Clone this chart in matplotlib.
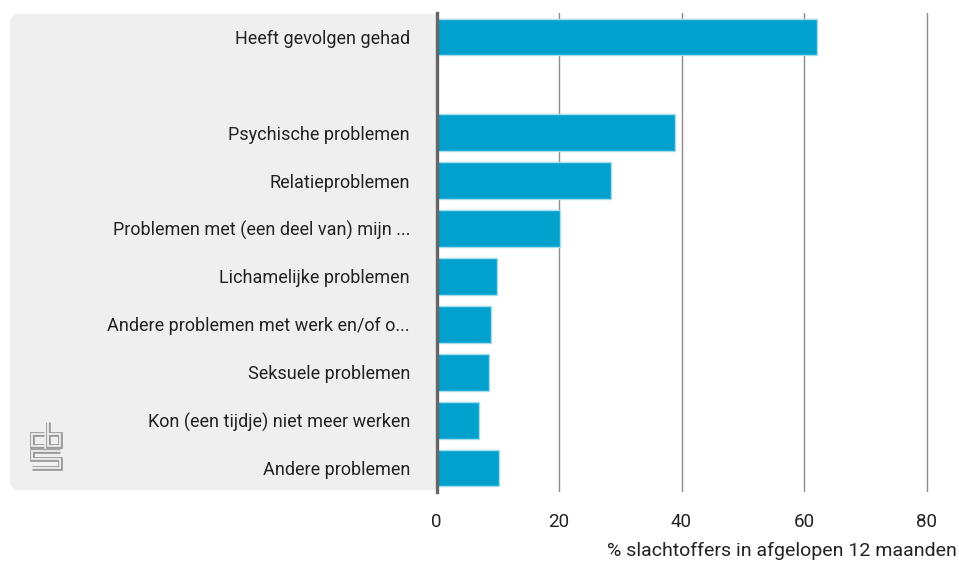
import numpy as np
import matplotlib
matplotlib.use("Agg")
import matplotlib.pyplot as plt
from matplotlib.patches import FancyBboxPatch, Rectangle

categories = [
    "Heeft gevolgen gehad",
    "",
    "Psychische problemen",
    "Relatieproblemen",
    "Problemen met (een deel van) mijn ...",
    "Lichamelijke problemen",
    "Andere problemen met werk en/of o...",
    "Seksuele problemen",
    "Kon (een tijdje) niet meer werken",
    "Andere problemen",
]
values = [62.1, np.nan, 38.9, 28.5, 20.2, 9.9, 8.9, 8.6, 6.9, 10.2]
xticks = [0, 20, 40, 60, 80]
xlabel = "% slachtoffers in afgelopen 12 maanden"

plt.rcParams['font.family'] = ['Roboto', 'DejaVu Sans']

W, H = 959, 562
fig = plt.figure(figsize=(W / 100, H / 100), dpi=100)

# background layer in pixel units: grey panel + logo
bg = fig.add_axes([0, 0, 1, 1], zorder=0)
bg.set_xlim(0, W)
bg.set_ylim(H, 0)
bg.axis('off')
bg.add_patch(FancyBboxPatch((10, 14), 427, 476, boxstyle="round,pad=0,rounding_size=9",
                            facecolor='#efefef', edgecolor='none'))
bg.add_patch(Rectangle((400, 14), 37, 476, facecolor='#efefef', edgecolor='none'))

# cbs logo, drawn as outlined strokes
lx, ly, s = 30, 422, 1.0
strokes = [
    [(14, 12), (2, 12), (2, 24), (14, 24)],
    [(18, 0), (18, 24), (30, 24), (30, 12), (18, 12)],
    [(30, 29), (2, 29), (2, 37), (30, 37), (30, 46), (2, 46)],
]
for st in strokes:
    xs = [lx + p[0] * s for p in st]
    ys = [ly + p[1] * s for p in st]
    bg.plot(xs, ys, color='#9a9a9a', lw=3.4, solid_joinstyle='miter', solid_capstyle='butt')
    bg.plot(xs, ys, color='#efefef', lw=1.3, solid_joinstyle='miter', solid_capstyle='projecting')

# main chart
x0_px, x1_px = 436.5, 950
top_px, bot_px = 13, 492
ax = fig.add_axes([x0_px / W, 1 - bot_px / H, (x1_px - x0_px) / W, (bot_px - top_px) / H], zorder=1)
ax.patch.set_alpha(0)

ypos = np.arange(len(categories))
ax.barh(ypos, values, height=0.77, color='#00a1cd', edgecolor='#a8dcec', linewidth=1, zorder=3)

ax.set_xlim(0, (x1_px - x0_px) / 6.125)
ax.set_ylim(len(categories) - 0.5, -0.5)
ax.set_xticks(xticks)
ax.set_xticklabels([str(t) for t in xticks])
ax.set_yticks(ypos)
ax.set_yticklabels(categories)

ax.grid(axis='x', color='#8c8c8c', linewidth=1, zorder=1)
ax.set_axisbelow(True)
for side in ['top', 'right', 'bottom']:
    ax.spines[side].set_visible(False)
ax.spines['left'].set_color('#666666')
ax.spines['left'].set_linewidth(2.4)
ax.spines['left'].set_zorder(4)

ax.tick_params(axis='y', length=0, pad=19, labelsize=13, labelcolor='#222222')
ax.tick_params(axis='x', length=0, pad=15, labelsize=13.5, labelcolor='#222222')

fig.text(957 / W, 1 - 551 / H, xlabel, ha='right', va='center', fontsize=14, color='#222222')

fig.savefig("out.png", dpi=100)
